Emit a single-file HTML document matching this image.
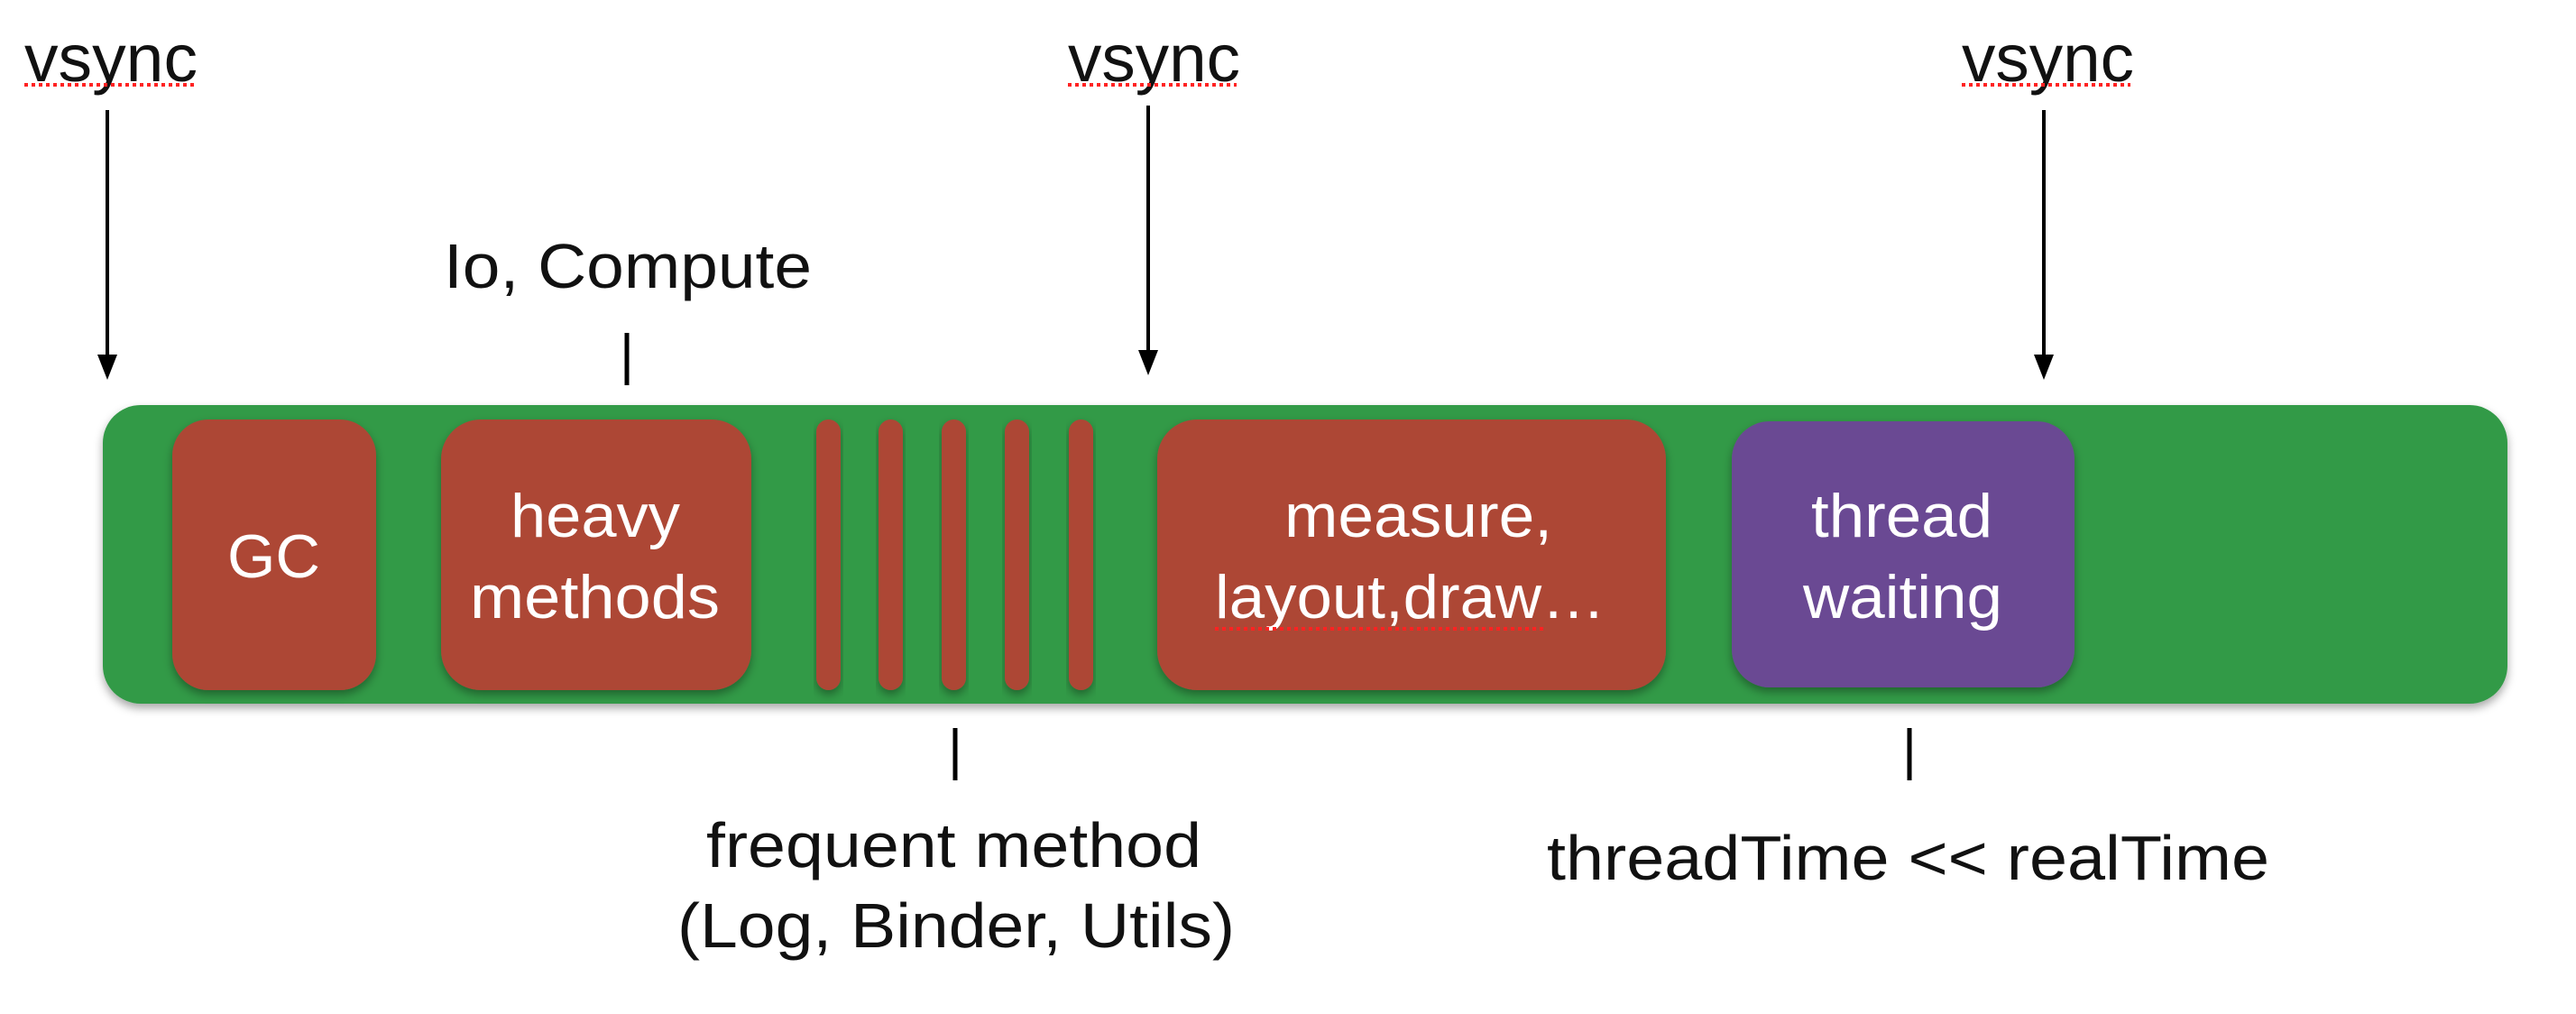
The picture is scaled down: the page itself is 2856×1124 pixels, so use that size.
<!DOCTYPE html>
<html><head><meta charset="utf-8"><style>
html,body{margin:0;padding:0;background:#fff;width:2856px;height:1124px;overflow:hidden}
svg{display:block}
text{font-family:"Liberation Sans",Arial,sans-serif;}
</style></head><body>
<svg width="2856" height="1124" viewBox="0 0 2856 1124" xmlns="http://www.w3.org/2000/svg">
<defs>
<filter id="sh" x="-10%" y="-10%" width="120%" height="125%">
<feDropShadow dx="0" dy="5" stdDeviation="5" flood-color="#000" flood-opacity="0.35"/>
</filter>
</defs>
<!-- green bar -->
<rect x="114" y="449" width="2666" height="331" rx="42" fill="#319a46" filter="url(#sh)"/>
<!-- red boxes -->
<rect x="191" y="465" width="226" height="300" rx="40" fill="#ad4636" filter="url(#sh)"/>
<rect x="489" y="465" width="344" height="300" rx="44" fill="#ad4636" filter="url(#sh)"/>
<rect x="905" y="465" width="27" height="300" rx="13.5" fill="#ad4636" filter="url(#sh)"/>
<rect x="974" y="465" width="27" height="300" rx="13.5" fill="#ad4636" filter="url(#sh)"/>
<rect x="1044" y="465" width="27" height="300" rx="13.5" fill="#ad4636" filter="url(#sh)"/>
<rect x="1114" y="465" width="27" height="300" rx="13.5" fill="#ad4636" filter="url(#sh)"/>
<rect x="1185" y="465" width="27" height="300" rx="13.5" fill="#ad4636" filter="url(#sh)"/>
<rect x="1283" y="465" width="564" height="300" rx="44" fill="#ad4636" filter="url(#sh)"/>
<rect x="1920" y="467" width="380" height="295" rx="42" fill="#6b4a93" filter="url(#sh)"/>

<!-- box labels -->
<g fill="#fff" font-size="68">
<text x="252" y="640" textLength="103" lengthAdjust="spacingAndGlyphs">GC</text>
<text x="566" y="595" textLength="188" lengthAdjust="spacingAndGlyphs">heavy</text>
<text x="521" y="685" textLength="277" lengthAdjust="spacingAndGlyphs">methods</text>
<text x="1424" y="595" textLength="297" lengthAdjust="spacingAndGlyphs">measure,</text>
<text x="1347" y="685" textLength="433" lengthAdjust="spacingAndGlyphs">layout,draw…</text>
<text x="2008" y="595" textLength="201" lengthAdjust="spacingAndGlyphs">thread</text>
<text x="1999" y="685" textLength="221" lengthAdjust="spacingAndGlyphs">waiting</text>
</g>
<line x1="1347" y1="697" x2="1712" y2="697" stroke="#f22" stroke-width="4" stroke-dasharray="4 4"/>

<!-- vsync labels -->
<g fill="#111" font-size="74">
<text x="27" y="90" textLength="192" lengthAdjust="spacingAndGlyphs">vsync</text>
<text x="1184" y="90" textLength="191" lengthAdjust="spacingAndGlyphs">vsync</text>
<text x="2175" y="90" textLength="191" lengthAdjust="spacingAndGlyphs">vsync</text>
</g>
<g stroke="#f22" stroke-width="4" stroke-dasharray="4 4">
<line x1="27" y1="94" x2="215" y2="94"/>
<line x1="1184" y1="94" x2="1371" y2="94"/>
<line x1="2175" y1="94" x2="2362" y2="94"/>
</g>

<!-- arrows -->
<g stroke="#000" stroke-width="4">
<line x1="119" y1="122" x2="119" y2="395"/>
<line x1="1273" y1="117" x2="1273" y2="390"/>
<line x1="2266" y1="122" x2="2266" y2="395"/>
</g>
<g fill="#000">
<polygon points="108,393 130,393 119,421"/>
<polygon points="1262,388 1284,388 1273,416"/>
<polygon points="2255,393 2277,393 2266,421"/>
</g>

<!-- ticks -->
<g stroke="#000" stroke-width="5">
<line x1="695" y1="369" x2="695" y2="427"/>
<line x1="1059" y1="807" x2="1059" y2="865"/>
<line x1="2117" y1="807" x2="2117" y2="865"/>
</g>

<!-- other labels -->
<g fill="#111" font-size="70">
<text x="492" y="319" textLength="408" lengthAdjust="spacingAndGlyphs">Io, Compute</text>
<text x="783" y="961" textLength="549" lengthAdjust="spacingAndGlyphs">frequent method</text>
<text x="751" y="1050" textLength="618" lengthAdjust="spacingAndGlyphs">(Log, Binder, Utils)</text>
<text x="1715" y="975" textLength="801" lengthAdjust="spacingAndGlyphs">threadTime &lt;&lt; realTime</text>
</g>
</svg>
</body></html>
